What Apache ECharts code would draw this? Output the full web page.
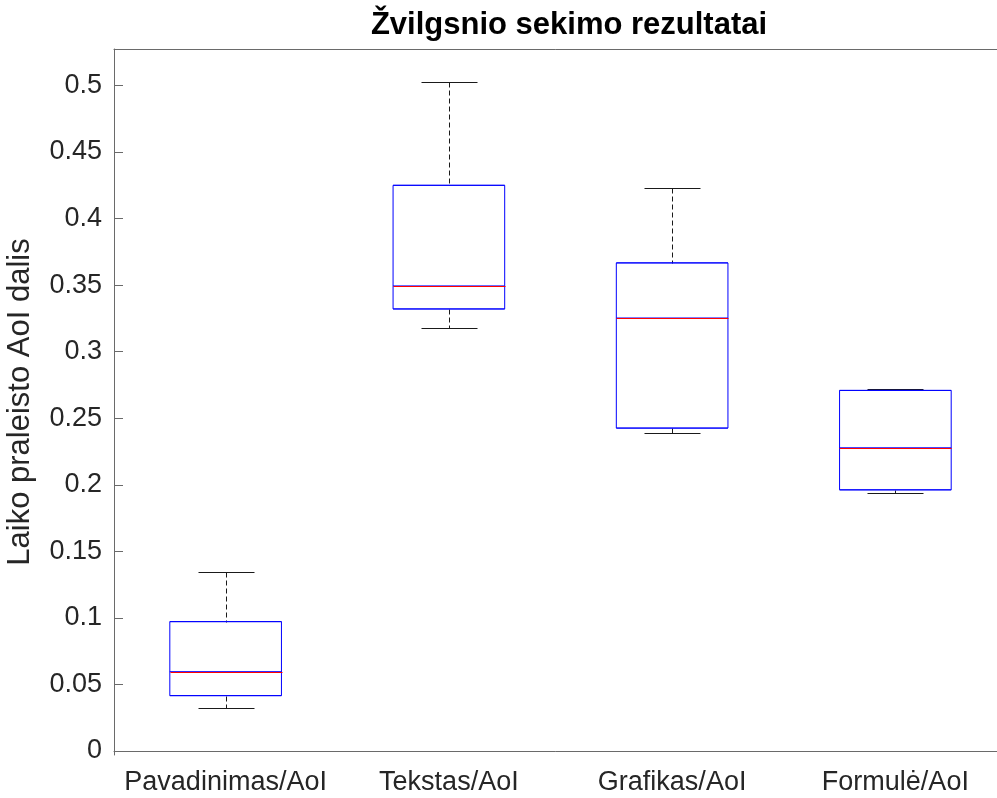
<!DOCTYPE html>
<html>
<head>
<meta charset="utf-8">
<script src="https://cdn.jsdelivr.net/npm/echarts@6/dist/echarts.min.js"></script>
<style>html,body{margin:0;padding:0;background:#fff}#c{width:997px;height:798px}</style>
</head>
<body>
<div id="c"></div>
<script>
const categories = ['Pavadinimas/AoI', 'Tekstas/AoI', 'Grafikas/AoI', 'Formulė/AoI'];
const whiskerLow  = [0.0321, 0.3178, 0.2389, 0.1942];
const q1          = [0.0416, 0.3321, 0.2426, 0.1962];
const median      = [0.0596, 0.3494, 0.3253, 0.2278];
const q3          = [0.0972, 0.4250, 0.3667, 0.2709];
const whiskerHigh = [0.1343, 0.5027, 0.4231, 0.2722];
const yTicks = [0, 0.05, 0.1, 0.15, 0.2, 0.25, 0.3, 0.35, 0.4, 0.45, 0.5];

const FONT = '"Liberation Sans", Arial, Helvetica, sans-serif';
const AXIS_COLOR = '#6a6a6a';
const TEXT_COLOR = '#262626';
const BOX_COLOR = 'rgb(0,0,255)';

const data = categories.map((c, i) => [i, whiskerLow[i], q1[i], median[i], q3[i], whiskerHigh[i]]);
// box-only data for the library's boxplot series (whiskers collapsed onto the box edges)
const boxData = categories.map((c, i) => [q1[i], q1[i], median[i], q3[i], q3[i]]);

function geom(api) {
  const idx = api.value(0);
  const band = api.size([1, 0])[0];
  const bw = Math.round(band * 0.5);
  const cw = Math.round(bw * 0.5);
  const r = v => Math.round(v) + 0.5;
  const pMed = api.coord([idx, api.value(3)]);
  const xl = r(pMed[0] - bw / 2);
  return {
    cx: r(pMed[0]), xl: xl, xr: xl + bw, cw: cw,
    yLow: r(api.coord([idx, api.value(1)])[1]),
    yQ1: r(api.coord([idx, api.value(2)])[1]),
    yMed: r(pMed[1]),
    yQ3: r(api.coord([idx, api.value(4)])[1]),
    yHigh: r(api.coord([idx, api.value(5)])[1])
  };
}
function ln(x1, y1, x2, y2, color, dashed) {
  return {
    type: 'line', silent: true,
    shape: {x1: x1, y1: y1, x2: x2, y2: y2},
    style: {stroke: color, fill: 'none', lineWidth: 1, lineDash: dashed ? [5, 3] : null}
  };
}
function renderWhiskers(params, api) {
  const g = geom(api);
  return {type: 'group', children: [
    ln(g.cx, g.yHigh, g.cx, g.yQ3, '#1a1a1a', true),
    ln(g.cx, g.yQ1, g.cx, g.yLow, '#1a1a1a', true),
    ln(g.cx - g.cw / 2, g.yHigh, g.cx + g.cw / 2, g.yHigh, '#1a1a1a', false),
    ln(g.cx - g.cw / 2, g.yLow, g.cx + g.cw / 2, g.yLow, '#1a1a1a', false)
  ]};
}
function renderMedians(params, api) {
  const g = geom(api);
  return ln(g.xl, g.yMed, g.xr, g.yMed, '#ff0000', false);
}

const chart = echarts.init(document.getElementById('c'), null, {renderer: 'canvas'});
const seriesBase = {
  type: 'custom', silent: true, emphasis: {disabled: true},
  encode: {x: 0, y: [1, 2, 3, 4, 5]}, data: data, clip: false
};
chart.setOption({
  backgroundColor: '#ffffff',
  animation: false,
  title: {
    text: 'Žvilgsnio sekimo rezultatai',
    left: 564, top: 5, textAlign: 'center',
    textStyle: {fontFamily: FONT, fontWeight: 'bold', fontSize: 31, color: '#000'}
  },
  grid: {left: 114, top: 49, width: 893, height: 706, outerBoundsMode: 'none', containLabel: false},
  xAxis: [{
    type: 'category', data: categories, position: 'bottom',
    axisLine: {lineStyle: {color: AXIS_COLOR}},
    axisTick: {inside: true, alignWithLabel: true, length: 9, lineStyle: {color: AXIS_COLOR}},
    axisLabel: {fontFamily: FONT, fontSize: 27, color: TEXT_COLOR, margin: 14, interval: 0, hideOverlap: false},
    splitLine: {show: false}
  }, {
    type: 'category', data: categories, position: 'top',
    axisLine: {lineStyle: {color: AXIS_COLOR}},
    axisTick: {inside: true, alignWithLabel: true, length: 9, lineStyle: {color: AXIS_COLOR}},
    axisLabel: {show: false},
    splitLine: {show: false}
  }],
  yAxis: {
    type: 'value', min: -0.003, max: 0.5274,
    name: 'Laiko praleisto AoI dalis', nameLocation: 'middle', nameGap: 78,
    nameTextStyle: {fontFamily: FONT, fontSize: 31, color: TEXT_COLOR},
    axisLine: {show: true, lineStyle: {color: AXIS_COLOR}},
    axisTick: {show: true, inside: true, length: 9, customValues: yTicks, lineStyle: {color: AXIS_COLOR}},
    axisLabel: {fontFamily: FONT, fontSize: 27, color: TEXT_COLOR, margin: 12, customValues: yTicks},
    splitLine: {show: false}
  },
  tooltip: {show: false},
  series: [
    Object.assign({}, seriesBase, {name: 'whiskers', renderItem: renderWhiskers, z: 2}),
    {
      name: 'boxes', type: 'boxplot', silent: true, z: 3,
      emphasis: {disabled: true},
      boxWidth: ['50%', '50%'],
      itemStyle: {color: 'rgba(0,0,0,0)', borderColor: BOX_COLOR, borderWidth: 1},
      data: boxData
    },
    Object.assign({}, seriesBase, {name: 'medians', renderItem: renderMedians, z: 4})
  ]
});
</script>
</body>
</html>
